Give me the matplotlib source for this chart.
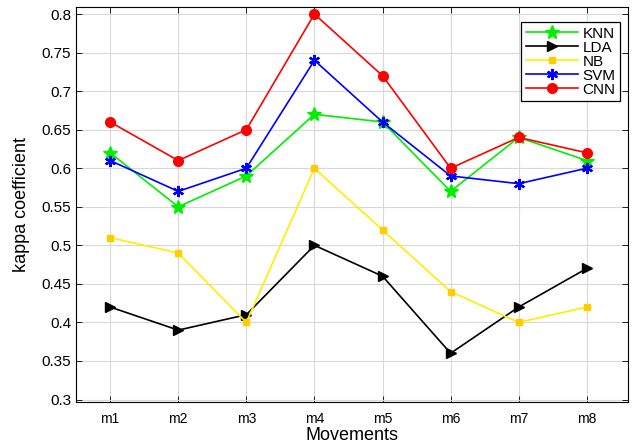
import numpy as np
from matplotlib import pyplot as plt

plt.rcParams["font.family"] = ["Liberation Sans", "DejaVu Sans"]

movements = ["m1", "m2", "m3", "m4", "m5", "m6", "m7", "m8"]
knn = [0.62, 0.55, 0.59, 0.67, 0.66, 0.57, 0.64, 0.61]
lda = [0.42, 0.39, 0.41, 0.50, 0.46, 0.36, 0.42, 0.47]
nb = [0.51, 0.49, 0.40, 0.60, 0.52, 0.44, 0.40, 0.42]
svm = [0.61, 0.57, 0.60, 0.74, 0.66, 0.59, 0.58, 0.60]
cnn = [0.66, 0.61, 0.65, 0.80, 0.72, 0.60, 0.64, 0.62]
y_ticks = [0.3, 0.35, 0.4, 0.45, 0.5, 0.55, 0.6, 0.65, 0.7, 0.75, 0.8]
y_labels = ["0.3", "0.35", "0.4", "0.45", "0.5", "0.55", "0.6", "0.65", "0.7", "0.75", "0.8"]

x = np.arange(1, len(movements) + 1)

fig = plt.figure(figsize=(6.34, 4.45), dpi=100)
ax = fig.add_axes([0.12, 0.097, 0.87, 0.887])

ax.plot(x, knn, color="#00ee00", marker="*", markersize=10, lw=1.2, label="KNN")
ax.plot(x, lda, color="black", marker=">", markersize=7, lw=1.2, label="LDA")
ax.plot(x, nb, color="#ffee00", marker="s", markersize=5, mfc="#ffcc00", mec="#ffcc00", lw=1.2, label="NB")
ax.plot(x, svm, color="blue", marker=(6, 2, 0), markersize=8, mew=1.6, lw=1.2, label="SVM")
ax.plot(x, cnn, color="red", marker="o", markersize=7, lw=1.2, label="CNN")

ax.set_xlim(0.5, 8.6)
ax.set_ylim(0.297, 0.809)
ax.set_xticks(x)
ax.set_xticklabels(movements, fontsize=10)
ax.set_yticks(y_ticks)
ax.set_yticklabels(y_labels, fontsize=11)
ax.tick_params(direction="in", top=True, right=True, length=4, width=0.6)
ax.tick_params(axis="x", pad=7)
ax.grid(True, color="#d8d8d8", lw=0.8)
ax.set_axisbelow(True)
ax.set_xlabel("Movements", fontsize=13, labelpad=1)
ax.set_ylabel("kappa coefficient", fontsize=13, labelpad=8)

leg = ax.legend(loc="upper right", fontsize=11, fancybox=False, framealpha=1,
                edgecolor="black", handlelength=3.4, handletextpad=0.3,
                borderpad=0.3, labelspacing=0.0, borderaxespad=0,
                bbox_to_anchor=(0.986, 0.962))
leg.get_frame().set_linewidth(0.9)

plt.savefig("out.png", dpi=100)
